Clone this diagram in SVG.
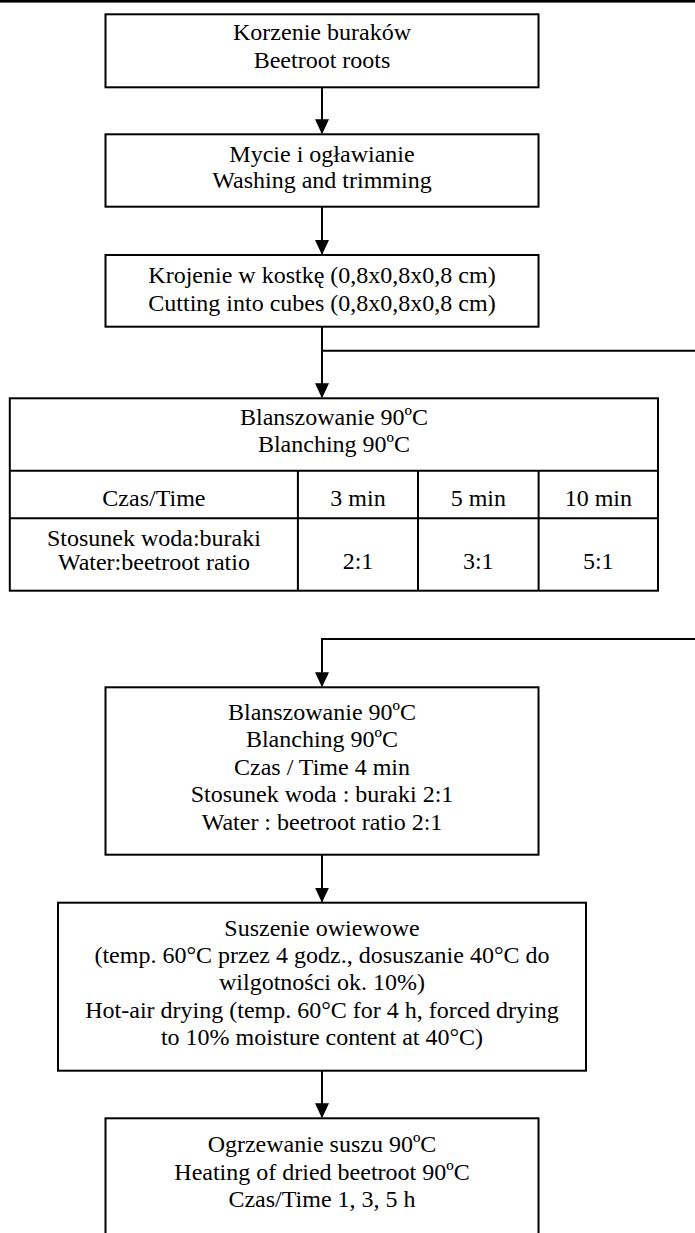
<svg xmlns="http://www.w3.org/2000/svg" width="695" height="1233" viewBox="0 0 695 1233">
<style>
.box{fill:#fff;stroke:#000;stroke-width:2}
.ln{fill:none;stroke:#000;stroke-width:2}
text{font-family:"Liberation Serif","Times New Roman",serif;font-size:24px;fill:#000;text-anchor:middle}
</style>
<defs>
<marker id="ah" markerUnits="userSpaceOnUse" markerWidth="14" markerHeight="16" viewBox="0 0 14 16" refX="14" refY="7" orient="auto">
<path d="M0,0 L15,7 L0,14 Z" fill="#000"/>
</marker>
</defs>
<rect width="695" height="1233" fill="#fff"/>
<rect x="0" y="0" width="695" height="2.6" fill="#000"/>
<g id="connectors">
<line class="ln" x1="322" y1="87.3" x2="322" y2="133.3" marker-end="url(#ah)"/>
<line class="ln" x1="322" y1="206.7" x2="322" y2="254" marker-end="url(#ah)"/>
<line class="ln" x1="322" y1="326.7" x2="322" y2="397.3" marker-end="url(#ah)"/>
<line class="ln" x1="322" y1="350.7" x2="696" y2="350.7"/>
<polyline class="ln" points="696,639 322,639 322,686.3" marker-end="url(#ah)"/>
<line class="ln" x1="322" y1="854.7" x2="322" y2="901.7" marker-end="url(#ah)"/>
<line class="ln" x1="322" y1="1070.7" x2="322" y2="1117.3" marker-end="url(#ah)"/>
</g>
<g id="n1">
<rect class="box" x="105.5" y="14.3" width="433" height="73"/>
<text x="322" y="40">Korzenie buraków</text>
<text x="322" y="68">Beetroot roots</text>
</g>
<g id="n2">
<rect class="box" x="105.5" y="134.3" width="433" height="72.4"/>
<text x="322" y="161.7">Mycie i ogławianie</text>
<text x="322" y="188.3">Washing and trimming</text>
</g>
<g id="n3">
<rect class="box" x="105.5" y="255" width="433" height="71.7"/>
<text x="322" y="283.3">Krojenie w kostkę (0,8x0,8x0,8 cm)</text>
<text x="322" y="311">Cutting into cubes (0,8x0,8x0,8 cm)</text>
</g>
<g id="n4">
<rect class="box" x="9.8" y="398.3" width="648.2" height="192.4"/>
<line class="ln" x1="9.8" y1="470.7" x2="658" y2="470.7"/>
<line class="ln" x1="9.8" y1="518.3" x2="658" y2="518.3"/>
<line class="ln" x1="297.9" y1="470.7" x2="297.9" y2="590.7"/>
<line class="ln" x1="418" y1="470.7" x2="418" y2="590.7"/>
<line class="ln" x1="538.6" y1="470.7" x2="538.6" y2="590.7"/>
<text x="334" y="425">Blanszowanie 90ºC</text>
<text x="334" y="451.7">Blanching 90ºC</text>
<text x="153.9" y="506">Czas/Time</text>
<text x="358" y="506">3 min</text>
<text x="478.3" y="506">5 min</text>
<text x="598.3" y="506">10 min</text>
<text x="153.9" y="545.5">Stosunek woda:buraki</text>
<text x="153.9" y="569.5">Water:beetroot ratio</text>
<text x="358" y="569">2:1</text>
<text x="478.3" y="569">3:1</text>
<text x="598.3" y="569">5:1</text>
</g>
<g id="n5">
<rect class="box" x="105.5" y="687.3" width="433" height="167.4"/>
<text x="322" y="720">Blanszowanie 90ºC</text>
<text x="322" y="747">Blanching 90ºC</text>
<text x="322" y="775">Czas / Time 4 min</text>
<text x="322" y="802">Stosunek woda : buraki 2:1</text>
<text x="322" y="830">Water : beetroot ratio 2:1</text>
</g>
<g id="n6">
<rect class="box" x="58" y="902.7" width="528" height="168"/>
<text x="322" y="936">Suszenie owiewowe</text>
<text x="322" y="963.3">(temp. 60°C przez 4 godz., dosuszanie 40°C do</text>
<text x="322" y="990">wilgotności ok. 10%)</text>
<text x="322" y="1018.3">Hot-air drying (temp. 60°C for 4 h, forced drying</text>
<text x="322" y="1045">to 10% moisture content at 40°C)</text>
</g>
<g id="n7">
<rect class="box" x="105.5" y="1118.3" width="433" height="140"/>
<text x="322" y="1151.7">Ogrzewanie suszu 90ºC</text>
<text x="322" y="1180">Heating of dried beetroot 90ºC</text>
<text x="322" y="1206.7">Czas/Time 1, 3, 5 h</text>
</g>
</svg>
